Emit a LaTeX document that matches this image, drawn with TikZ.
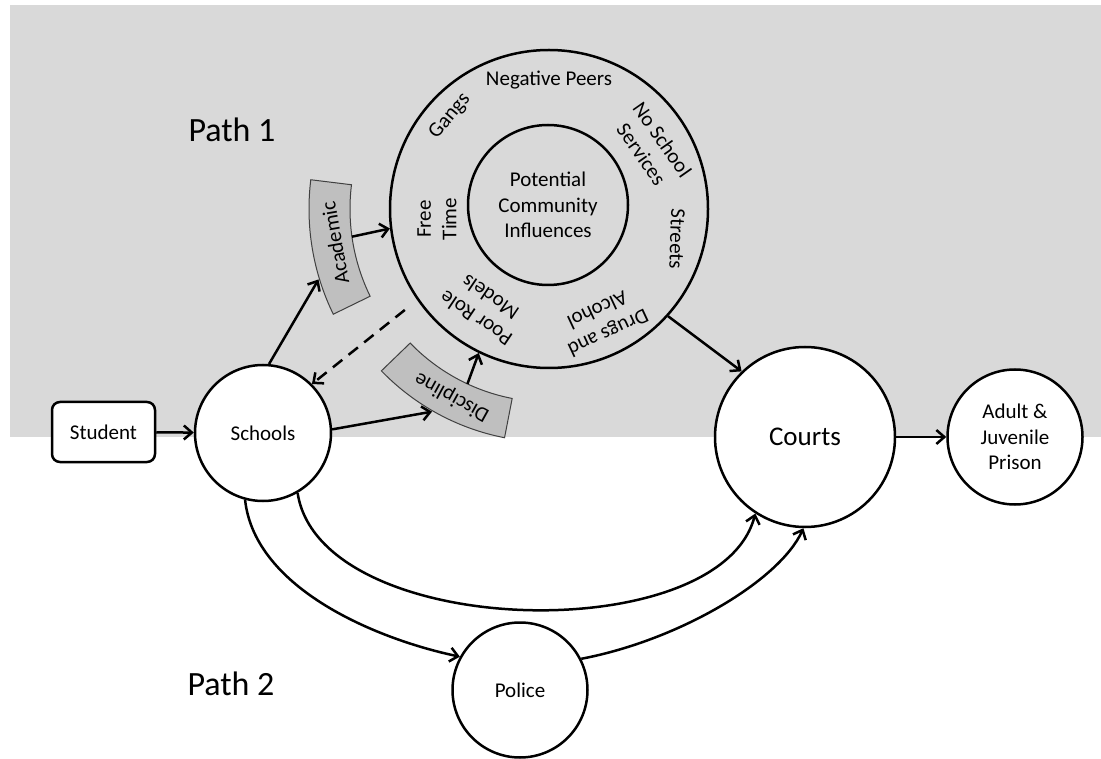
\documentclass[tikz,border=0pt]{standalone}
\usepackage{fontspec}
\setmainfont{Carlito}
\usetikzlibrary{arrows.meta,calc}
\definecolor{bggray}{HTML}{D9D9D9}
\definecolor{secgray}{HTML}{BFBFBF}
\definecolor{secline}{HTML}{404040}
\begin{document}
\begin{tikzpicture}[x=1pt,y=-1pt,
  lbl/.style={font=\fontsize{21}{25.5}\selectfont, align=center, inner sep=0pt},
  circ/.style={circle, draw, line width=2.5pt, fill=white, inner sep=0pt, font=\fontsize{21}{25.5}\selectfont, align=center},
  conn/.style={line width=2.5pt, -{Straight Barb[length=8pt,width=14pt]}},
  sector/.style={fill=secgray, draw=secline, line width=1pt},
  pathlbl/.style={font=\fontsize{34}{40}\selectfont, anchor=base, inner sep=0pt}]
\useasboundingbox (0,0) rectangle (1101,759);
\fill[bggray] (10,5) rectangle (1101,437);
\coordinate (ctr) at (549,209);
% sectors
\draw[sector] ($(ctr)+(173:199pt)$) arc[start angle=173, end angle=206, radius=199pt]
  -- ($(ctr)+(206:240pt)$) arc[start angle=206, end angle=173, radius=240pt] -- cycle;
\draw[sector] ($(ctr)+(224:193pt)$) arc[start angle=224, end angle=259, radius=193pt]
  -- ($(ctr)+(259:233pt)$) arc[start angle=259, end angle=224, radius=233pt] -- cycle;
\node[lbl, rotate=100] (acad) at (335,243) {Academic};
\node[lbl, rotate=151] (disc) at (452,397) {Discipline};
% ring
\node[circle, draw, line width=2.5pt, minimum size=318pt, inner sep=0pt] (ring) at (ctr) {};
\node[circle, draw, line width=2.5pt, minimum size=160pt, inner sep=0pt, lbl] (core) at (548,205) {Potential\\Community\\Influences};
\node[lbl] (negpeers) at (549,80) {Negative Peers};
\node[lbl, rotate=50] (gangs) at (450,116) {Gangs};
\node[lbl, rotate=-55] (noschool) at (652,147) {No School\\Services};
\node[lbl, rotate=-92] (streets) at (677,239) {Streets};
\node[lbl, rotate=205] (drugs) at (603,322) {Drugs and\\Alcohol};
\node[lbl, rotate=146] (poor) at (483,308) {Poor Role\\Models};
\node[lbl, rotate=90] (free) at (437,219) {Free\\Time};
% main nodes
\node[draw, line width=2.5pt, fill=white, rounded corners=8pt, minimum width=103pt, minimum height=60pt, inner sep=0pt, font=\fontsize{21}{25.5}\selectfont] (student) at (103.5,432) {Student};
\node[circ, minimum size=136pt] (schools) at (263,433) {Schools};
\node[circ, minimum size=180pt, font=\fontsize{27}{32}\selectfont] (courts) at (805,437) {Courts};
\node[circ, minimum size=135pt] (prison) at (1015,437) {Adult \&\\Juvenile\\Prison};
\node[circ, minimum size=135pt] (police) at (520,690) {Police};
\node[pathlbl] (p1) at (232,142) {Path 1};
\node[pathlbl] (p2) at (231,695) {Path 2};
% coordinates on sectors
\coordinate (acadOut) at ($(ctr)+(197:241pt)$);
\coordinate (acadIn) at ($(ctr)+(188:199pt)$);
\coordinate (dashStart) at ($(ctr)+(215:176pt)$);
\coordinate (discOut) at ($(ctr)+(240:234pt)$);
\coordinate (discIn) at ($(ctr)+(245:193pt)$);
% connectors
\draw[conn] (student) -- (schools);
\draw[conn] (schools.85) -- (acadOut);
\draw[conn] (acadIn) -- (ring.187);
\draw[conn, dash pattern=on 12pt off 8pt] (dashStart) -- (schools.45);
\draw[conn] (schools.3) -- (discOut);
\draw[conn] (discIn) -- (ring.244);
\draw[conn] (ring.-42) -- (courts.134);
\draw[conn] (courts) -- (prison);
\draw[conn] (schools.-60) .. controls (320,640) and (720,650) .. (courts.-123);
\draw[conn] (schools.-105) .. controls (255,590) and (380,640) .. (police.151);
\draw[conn] (police.27) .. controls (680,640) and (780,580) .. (courts.-91);
\end{tikzpicture}
\end{document}
